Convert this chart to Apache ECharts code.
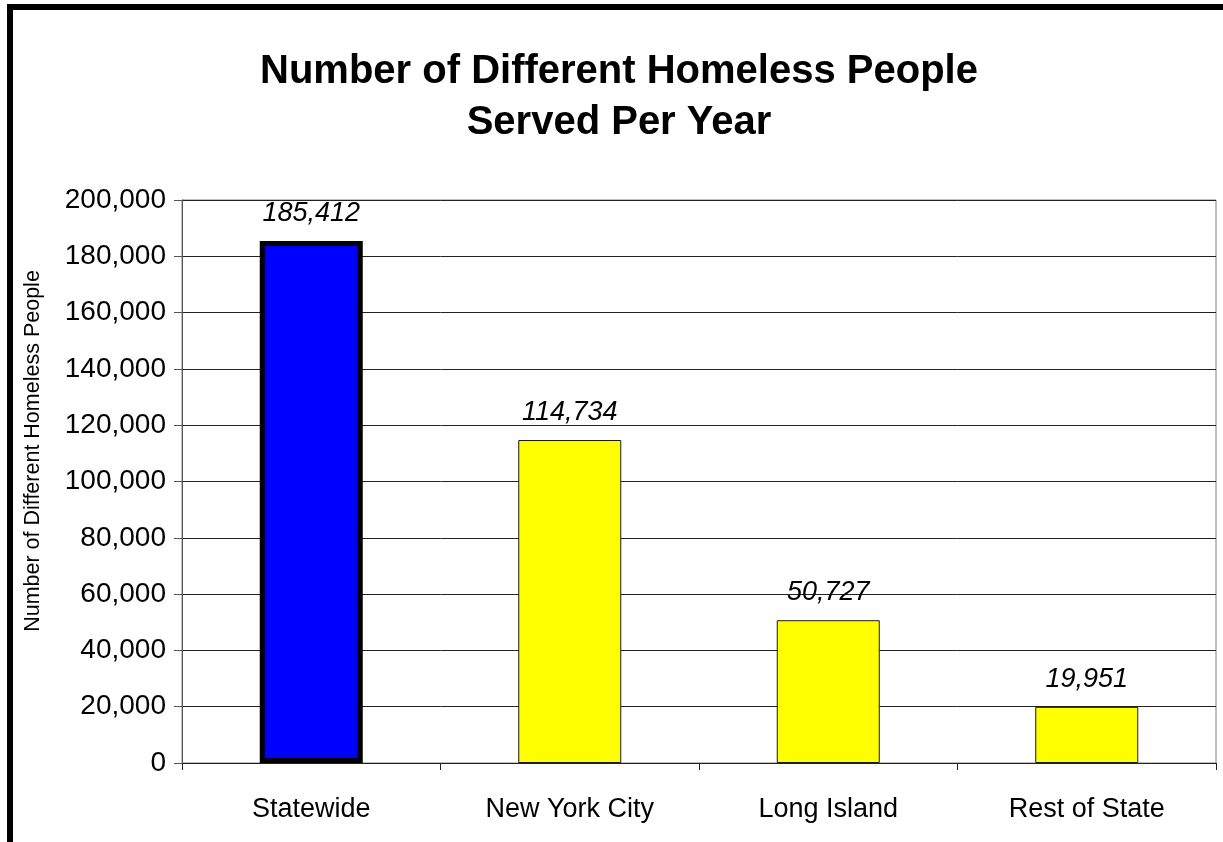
<!DOCTYPE html>
<html>
<head>
<meta charset="utf-8">
<title>Number of Different Homeless People Served Per Year</title>
<script src="https://cdn.jsdelivr.net/npm/echarts@6/dist/echarts.min.js"></script>
<style>
  html, body { margin: 0; padding: 0; background: #fff; }
  #chart { width: 1223px; height: 842px; }
</style>
</head>
<body>
<div id="chart"></div>
<script>
// Regions and the count of distinct homeless people served in each
const categories = ['Statewide', 'New York City', 'Long Island', 'Rest of State'];
const peopleServed = [185412, 114734, 50727, 19951];
const barFills = ['#0000FF', '#FFFF00', '#FFFF00', '#FFFF00'];
const barEdges = ['#000000', '#1a1a1a', '#1a1a1a', '#1a1a1a'];
const barEdgeWidths = [5, 1, 1, 1];
const yTicks = [0, 20000, 40000, 60000, 80000, 100000, 120000, 140000, 160000, 180000, 200000];

const titleLines = ['Number of Different Homeless People', 'Served Per Year'];
const yAxisTitle = 'Number of Different Homeless People';

const FONT = '"Liberation Sans", Arial, Helvetica, sans-serif';
const fmt = v => Number(v).toLocaleString('en-US');

const chart = echarts.init(document.getElementById('chart'), null, { renderer: 'canvas' });

chart.setOption({
  backgroundColor: '#ffffff',
  animation: false,
  textStyle: { fontFamily: FONT },
  grid: {
    left: 182, right: 7, top: 200, bottom: 79,
    show: true, borderColor: '#808080', borderWidth: 1, backgroundColor: 'transparent'
  },
  graphic: [
    // outer frame of the chart area
    {
      type: 'rect', silent: true, z: 100,
      shape: { x: 10, y: 7, width: 1400, height: 1000 },
      style: { fill: 'none', stroke: '#000', lineWidth: 6 }
    },
    {
      type: 'text', silent: true,
      x: 619, y: 97,
      style: {
        text: titleLines.join('\n'),
        font: 'bold 40px ' + FONT,
        fill: '#000',
        align: 'center', verticalAlign: 'middle',
        lineHeight: 51
      }
    },
    {
      type: 'text', silent: true,
      x: 33, y: 451, rotation: Math.PI / 2,
      style: {
        text: yAxisTitle,
        font: '21.5px ' + FONT,
        fill: '#000',
        align: 'center', verticalAlign: 'middle'
      }
    }
  ],
  xAxis: {
    type: 'category',
    data: categories,
    boundaryGap: true,
    axisLine: { show: true, lineStyle: { color: '#222', width: 1 } },
    axisTick: { show: true, alignWithLabel: false, length: 7, lineStyle: { color: '#222' } },
    axisLabel: { color: '#000', fontSize: 27, fontFamily: FONT, margin: 33 },
    splitLine: { show: false }
  },
  yAxis: {
    type: 'value',
    min: yTicks[0],
    max: yTicks[yTicks.length - 1],
    interval: yTicks[1] - yTicks[0],
    axisLine: { show: true, lineStyle: { color: '#555', width: 1 } },
    axisTick: { show: true, inside: false, length: 8, lineStyle: { color: '#555' } },
    axisLabel: { color: '#000', fontSize: 28, fontFamily: FONT, margin: 16, formatter: fmt },
    splitLine: { show: true, lineStyle: { color: '#222', width: 1 } }
  },
  series: [{
    type: 'bar',
    barWidth: 103,
    data: peopleServed.map((v, i) => ({
      value: v,
      itemStyle: { color: barFills[i], borderColor: barEdges[i], borderWidth: barEdgeWidths[i] }
    })),
    label: {
      show: true,
      position: 'top',
      distance: 14,
      color: '#000',
      fontSize: 27,
      fontStyle: 'italic',
      fontFamily: FONT,
      formatter: p => fmt(p.value)
    }
  }]
});
</script>
</body>
</html>
